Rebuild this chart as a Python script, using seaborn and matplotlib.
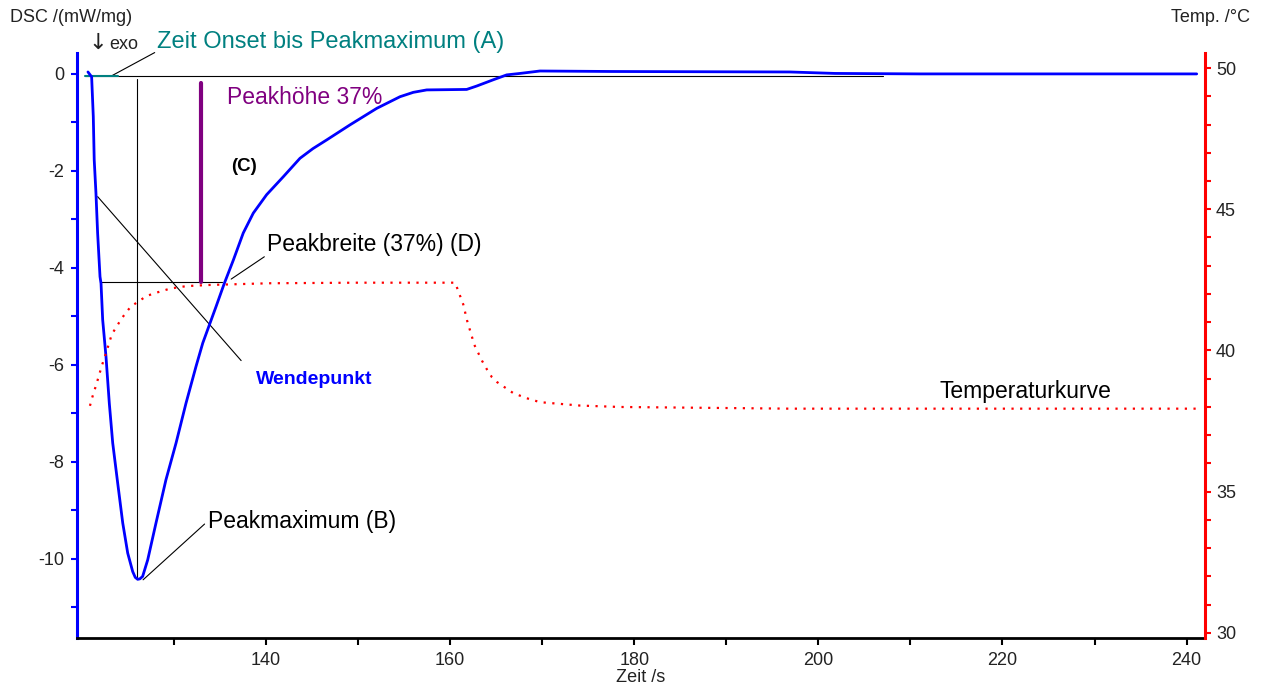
import numpy as np
import pandas as pd
import matplotlib
matplotlib.use("Agg")
import matplotlib.pyplot as plt
import seaborn as sns
from matplotlib.ticker import MultipleLocator, FixedLocator

# ---------------- data ----------------
dsc_time = [120.66, 121.06, 121.24, 121.34, 121.53, 121.71, 121.97, 122.08, 122.26, 122.62,
            122.98, 123.35, 123.90, 124.44, 124.98, 125.52, 125.80, 126.06, 126.30, 126.60,
            127.15, 128.05, 129.13, 130.23, 131.31, 132.40, 133.13, 133.84, 134.57, 135.47,
            136.45, 137.53, 138.62, 140.07, 141.88, 143.69, 145.10, 146.60, 149.13, 152.03,
            154.56, 156.00, 157.46, 161.80, 162.89, 164.70, 166.15, 167.60, 169.76, 177.54,
            196.91, 201.80, 211.03, 241.10]
dsc_value = [0.04, -0.06, -0.88, -1.77, -2.46, -3.28, -4.18, -4.32, -5.07, -5.83,
             -6.79, -7.61, -8.45, -9.26, -9.88, -10.26, -10.38, -10.42, -10.41, -10.36,
             -10.02, -9.26, -8.37, -7.61, -6.79, -6.03, -5.55, -5.18, -4.80, -4.32,
             -3.84, -3.28, -2.87, -2.49, -2.12, -1.74, -1.54, -1.36, -1.05, -0.71,
             -0.47, -0.38, -0.33, -0.32, -0.25, -0.12, -0.02, 0.01, 0.06, 0.05,
             0.04, 0.01, 0.00, 0.00]

temp_time = [120.88, 121.06, 121.61, 122.16, 122.70, 123.25, 124.33, 125.30, 127.03, 128.13,
             129.58, 131.38, 133.92, 137.17, 140.43, 150.00, 160.55, 161.43, 161.86, 162.35,
             162.63, 163.46, 164.00, 164.55, 165.10, 166.86, 168.32, 169.76, 172.29, 174.10,
             178.45, 196.91, 241.10]
temp_value = [38.04, 38.27, 38.84, 39.45, 39.99, 40.57, 41.14, 41.55, 41.93, 42.05,
              42.19, 42.28, 42.32, 42.35, 42.38, 42.40, 42.40, 41.63, 41.04, 40.51,
              40.20, 39.64, 39.33, 39.05, 38.88, 38.49, 38.31, 38.17, 38.10, 38.05,
              38.00, 37.94, 37.94]

x_ticks = [140, 160, 180, 200, 220, 240]
x_minor = [130, 150, 170, 190, 210, 230]
dsc_ticks = [0, -2, -4, -6, -8, -10]
temp_ticks = [30, 35, 40, 45, 50]

# annotation geometry (data units)
baseline_y = -0.04
onset_seg = [120.3, 123.9]
peak_t, peak_y = 126.04, -10.40
h37_y = -4.29
h37_seg = [122.04, 135.24]
purple_t, purple_top = 132.9, -0.19
tangent_t = [121.71, 137.3]
tangent_y = [-2.53, -5.91]

# ---------------- style ----------------
sns.set_style("white")
plt.rcParams['font.family'] = ['Liberation Sans', 'DejaVu Sans']
plt.rcParams['axes.unicode_minus'] = False

fig = plt.figure(figsize=(12.66, 6.89), dpi=100)
ax = fig.add_axes([0.0606, 0.074, 0.8912, 0.849])
ax2 = ax.twinx()

dsc_df = pd.DataFrame({"Zeit": dsc_time, "DSC": dsc_value})
temp_df = pd.DataFrame({"Zeit": temp_time, "Temp": temp_value})

sns.lineplot(data=dsc_df, x="Zeit", y="DSC", ax=ax, color="#0000FF", lw=2.0,
             sort=False, estimator=None, zorder=5)
sns.lineplot(data=temp_df, x="Zeit", y="Temp", ax=ax2, color="#FF0000", lw=1.6,
             sort=False, estimator=None, linestyle=(0, (1, 2.9)))

ax.set_xlim(119.44, 242.0)
ax.set_ylim(-11.63, 0.43)
ax2.set_ylim(29.82, 50.53)
ax.set_xlabel("")
ax.set_ylabel("")
ax2.set_ylabel("")

# annotation lines
ax.plot([onset_seg[0], 207.0], [baseline_y, baseline_y], color="black", lw=0.8, zorder=3)
ax.plot(onset_seg, [baseline_y, baseline_y], color="#008080", lw=1.5, zorder=4)
ax.plot([peak_t, peak_t], [-0.1, peak_y], color="black", lw=0.8, zorder=3)
ax.plot(h37_seg, [h37_y, h37_y], color="black", lw=0.8, zorder=3)
ax.plot([purple_t, purple_t], [purple_top, h37_y], color="#800080", lw=3.0, zorder=4)
ax.plot(tangent_t, tangent_y, color="black", lw=0.8, zorder=3)
# leader lines
ax.plot([123.23, 127.91], [-0.04, 0.44], color="black", lw=0.8, clip_on=False)
ax.plot([136.22, 139.82], [-4.23, -3.77], color="black", lw=0.8)
ax.plot([126.65, 133.33], [-10.43, -9.28], color="black", lw=0.8)

# annotation texts
ax.text(128.14, 0.66, "Zeit Onset bis Peakmaximum (A)", color="#008080", fontsize=17,
        va="center", ha="left", clip_on=False)
ax.text(135.8, -0.49, "Peakhöhe 37%", color="#800080", fontsize=16.5, va="center", ha="left")
ax.text(136.16, -1.90, "(C)", color="black", fontsize=13.5, fontweight="bold", va="center", ha="left")
ax.text(140.16, -3.51, "Peakbreite (37%) (D)", color="black", fontsize=16.5, va="center", ha="left")
ax.text(138.87, -6.31, "Wendepunkt", color="#0000FF", fontsize=14, fontweight="bold", va="center", ha="left")
ax.text(133.66, -9.22, "Peakmaximum (B)", color="black", fontsize=16.5, va="center", ha="left")
ax.text(213.2, -6.54, "Temperaturkurve", color="black", fontsize=16.5, va="center", ha="left")

# axis labels as figure text
fig.text(0.0079, 0.974, "DSC /(mW/mg)", fontsize=13, ha="left", va="center", color="#222222")
fig.text(0.070, 0.937, "↓", fontsize=16, ha="left", va="center", color="#222222",
         family=['DejaVu Sans'])
fig.text(0.0865, 0.936, "exo", fontsize=13, ha="left", va="center", color="#222222")
fig.text(0.987, 0.974, "Temp. /°C", fontsize=13, ha="right", va="center", color="#222222")
fig.text(0.506, 0.0174, "Zeit /s", fontsize=13, ha="center", va="center", color="#222222")

# spines
for a in (ax, ax2):
    a.spines['top'].set_visible(False)
    a.grid(False)
ax.spines['left'].set_color("#0000FF")
ax.spines['left'].set_linewidth(2.2)
ax.spines['bottom'].set_color("black")
ax.spines['bottom'].set_linewidth(2.0)
ax.spines['right'].set_visible(False)
ax2.spines['left'].set_visible(False)
ax2.spines['bottom'].set_visible(False)
ax2.spines['right'].set_color("#FF0000")
ax2.spines['right'].set_linewidth(2.2)

# ticks
ax.xaxis.set_major_locator(FixedLocator(x_ticks))
ax.xaxis.set_minor_locator(FixedLocator(x_minor))
ax.yaxis.set_major_locator(FixedLocator(dsc_ticks))
ax.yaxis.set_minor_locator(MultipleLocator(1))
ax2.yaxis.set_major_locator(FixedLocator(temp_ticks))
ax2.yaxis.set_minor_locator(MultipleLocator(1))

ax.tick_params(axis='x', which='both', direction='out', bottom=True, length=5, width=1.5,
               color='black', labelsize=13, labelcolor="#222222", pad=5)
ax.tick_params(axis='y', which='both', direction='out', left=True, length=4, width=1.5,
               color='#0000FF', labelsize=13, labelcolor="#222222", pad=5)
ax2.tick_params(axis='y', which='both', direction='out', right=True, length=4, width=1.5,
                color='#FF0000', labelsize=13, labelcolor="#222222", pad=4)

fig.savefig("out.png", dpi=100)
